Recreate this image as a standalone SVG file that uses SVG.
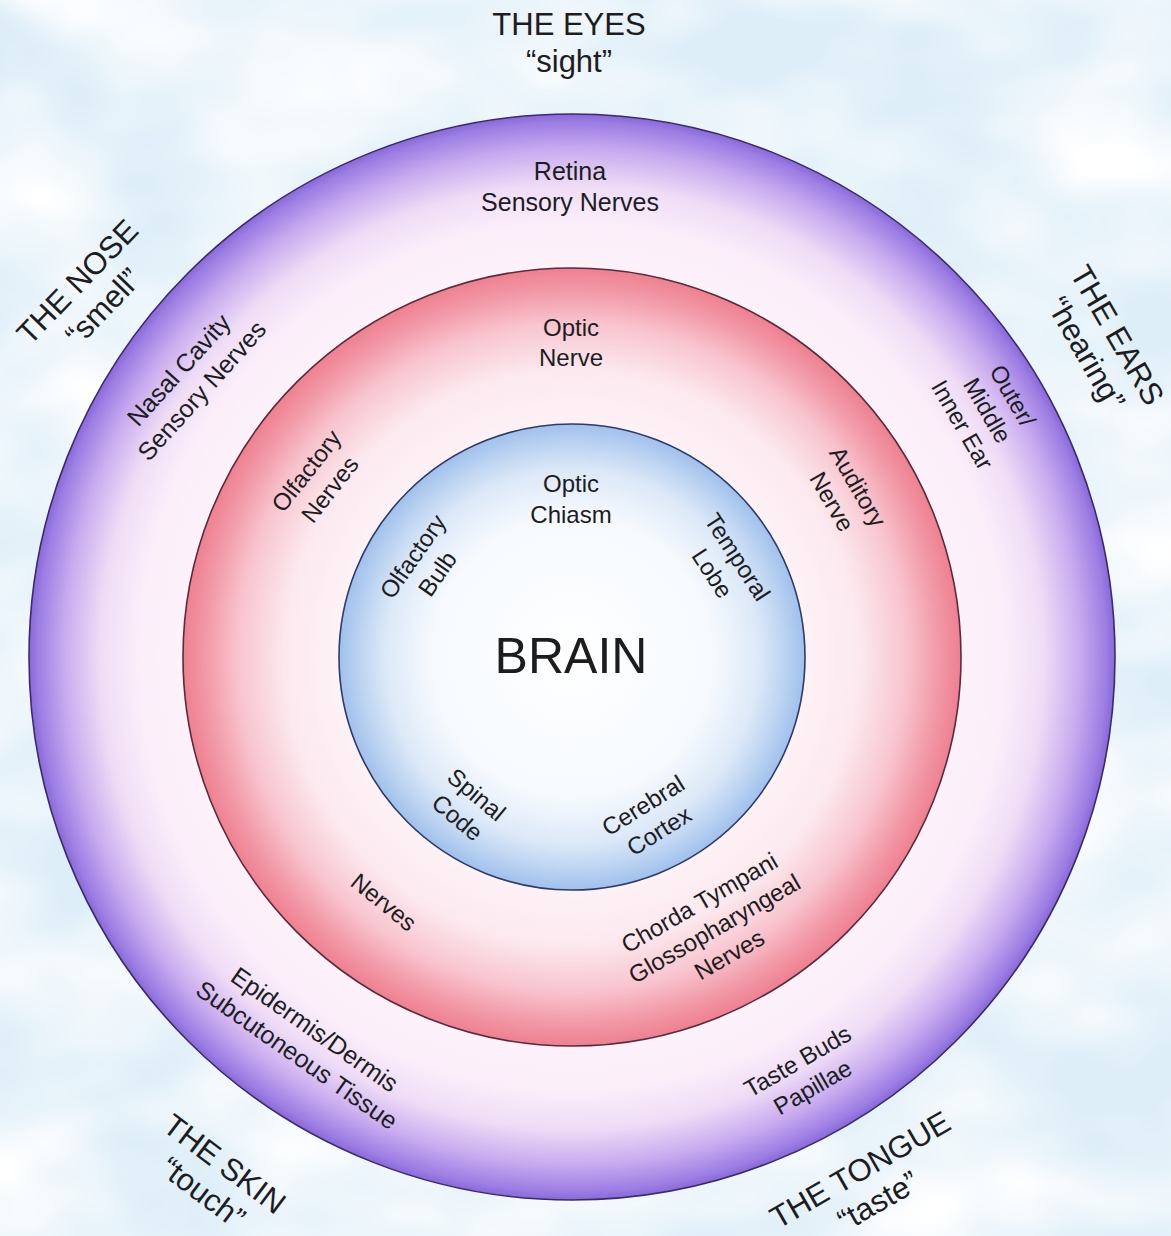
<svg xmlns="http://www.w3.org/2000/svg" width="1171" height="1236" viewBox="0 0 1171 1236">
<defs>
<style>
.t{font-family:"Liberation Sans",Arial,sans-serif;fill:#1d1d1f;text-anchor:middle}
.ttl{font-size:31px}
.lbl{font-size:25px}
.sm{font-size:24px}
.big{font-size:50px}
.ring{stroke-width:1.6}
</style>
<filter id="mottle" x="0" y="0" width="100%" height="100%">
<feTurbulence type="fractalNoise" baseFrequency="0.005 0.008" numOctaves="3" seed="7"/>
<feColorMatrix type="matrix" values="0 0 0 0 1  0 0 0 0 1  0 0 0 0 1  0 0 0 2.0 -0.6"/>
</filter>
<radialGradient id="gOuter" cx="572" cy="657" r="543" gradientUnits="userSpaceOnUse">
<stop offset="0.70" stop-color="#fdf3fa"/>
<stop offset="0.80" stop-color="#fbeefa"/>
<stop offset="0.87" stop-color="#eedcf6"/>
<stop offset="0.935" stop-color="#c8abef"/>
<stop offset="0.985" stop-color="#9c7de3"/>
<stop offset="1" stop-color="#8869d9"/>
</radialGradient>
<radialGradient id="gRed" cx="572" cy="657" r="389" gradientUnits="userSpaceOnUse">
<stop offset="0.58" stop-color="#fdf3f6"/>
<stop offset="0.74" stop-color="#fce9ef"/>
<stop offset="0.86" stop-color="#f8c4ce"/>
<stop offset="0.94" stop-color="#f29aa8"/>
<stop offset="1" stop-color="#ee8090"/>
</radialGradient>
<radialGradient id="gBlue" cx="572" cy="657" r="233" gradientUnits="userSpaceOnUse">
<stop offset="0" stop-color="#ffffff"/>
<stop offset="0.6" stop-color="#f6fafe"/>
<stop offset="0.8" stop-color="#dde9f8"/>
<stop offset="0.92" stop-color="#bad2f1"/>
<stop offset="1" stop-color="#a0c0ec"/>
</radialGradient>
</defs>

<g id="background">
<rect x="0" y="0" width="1171" height="1236" fill="#deeef8"/>
<rect x="0" y="0" width="1171" height="1236" filter="url(#mottle)"/>
</g>

<g id="ring-senses">
<circle class="ring" cx="572" cy="657" r="543" fill="url(#gOuter)" stroke="#3a2b6c"/>
</g>
<g id="ring-nerves">
<circle class="ring" cx="572" cy="657" r="389" fill="url(#gRed)" stroke="#5b2a3c"/>
</g>
<g id="ring-brain">
<circle class="ring" cx="572" cy="657" r="233" fill="url(#gBlue)" stroke="#2d3b68"/>
</g>

<g id="label-eyes">
<text class="t ttl" x="569" y="35">THE EYES</text>
<text class="t ttl" x="569" y="72">“sight”</text>
</g>
<g id="label-retina">
<text class="t lbl" x="570" y="180">Retina</text>
<text class="t lbl" x="570" y="211">Sensory Nerves</text>
</g>
<g id="label-optic-nerve">
<text class="t sm" x="571" y="336">Optic</text>
<text class="t sm" x="571" y="366">Nerve</text>
</g>
<g id="label-optic-chiasm">
<text class="t sm" x="571" y="492">Optic</text>
<text class="t sm" x="571" y="523">Chiasm</text>
</g>
<g id="label-brain">
<text class="t big" x="571" y="673">BRAIN</text>
</g>

<g id="label-nose">
<text class="t ttl" transform="translate(90,294) rotate(-46)"><tspan x="0" y="-7">THE NOSE</tspan><tspan x="0" y="29">“smell”</tspan></text>
</g>
<g id="label-nasal">
<text class="t lbl" transform="translate(190,380) rotate(-48)"><tspan x="0" y="-6.5">Nasal Cavity</tspan><tspan x="0" y="24.5">Sensory Nerves</tspan></text>
</g>
<g id="label-olfactory-nerves">
<text class="t sm" transform="translate(318,480) rotate(-52)"><tspan x="0" y="-6.5">Olfactory</tspan><tspan x="0" y="23.5">Nerves</tspan></text>
</g>
<g id="label-olfactory-bulb">
<text class="t sm" transform="translate(425,565) rotate(-55)"><tspan x="0" y="-6.5">Olfactory</tspan><tspan x="0" y="23.5">Bulb</tspan></text>
</g>
<g id="label-temporal">
<text class="t sm" transform="translate(725,565) rotate(57)"><tspan x="0" y="-6.5">Temporal</tspan><tspan x="0" y="23.5">Lobe</tspan></text>
</g>
<g id="label-auditory">
<text class="t sm" transform="translate(845,494) rotate(60)"><tspan x="0" y="-6.5">Auditory</tspan><tspan x="0" y="23.5">Nerve</tspan></text>
</g>
<g id="label-ear-parts">
<text class="t sm" transform="translate(988,410) rotate(60)"><tspan x="0" y="-20">Outer/</tspan><tspan x="0" y="9">Middle</tspan><tspan x="0" y="38">Inner Ear</tspan></text>
</g>
<g id="label-ears">
<text class="t ttl" transform="translate(1102,344) rotate(60)"><tspan x="0" y="-7">THE EARS</tspan><tspan x="0" y="29">“hearing”</tspan></text>
</g>
<g id="label-spinal">
<text class="t sm" transform="translate(467,806) rotate(40)"><tspan x="0" y="-6.5">Spinal</tspan><tspan x="0" y="23.5">Code</tspan></text>
</g>
<g id="label-cerebral">
<text class="t sm" transform="translate(651,818) rotate(-32)"><tspan x="0" y="-6.5">Cerebral</tspan><tspan x="0" y="23.5">Cortex</tspan></text>
</g>
<g id="label-nerves">
<text class="t sm" transform="translate(384,902) rotate(39)"><tspan x="0" y="8.5">Nerves</tspan></text>
</g>
<g id="label-chorda">
<text class="t sm" transform="translate(714,928) rotate(-30)"><tspan x="0" y="-21">Chorda Tympani</tspan><tspan x="0" y="9">Glossopharyngeal</tspan><tspan x="0" y="39">Nerves</tspan></text>
</g>
<g id="label-epidermis">
<text class="t lbl" transform="translate(306,1042) rotate(35)"><tspan x="0" y="-6.5">Epidermis/Dermis</tspan><tspan x="0" y="24.5">Subcutoneous Tissue</tspan></text>
</g>
<g id="label-taste-buds">
<text class="t sm" transform="translate(805,1074) rotate(-30)"><tspan x="0" y="-6.5">Taste Buds</tspan><tspan x="0" y="23.5">Papillae</tspan></text>
</g>
<g id="label-skin">
<text class="t ttl" transform="translate(214,1178) rotate(37)"><tspan x="0" y="-7">THE SKIN</tspan><tspan x="0" y="29">“touch”</tspan></text>
</g>
<g id="label-tongue">
<text class="t ttl" transform="translate(869,1185) rotate(-30)"><tspan x="0" y="-7">THE TONGUE</tspan><tspan x="0" y="29">“taste”</tspan></text>
</g>
</svg>
